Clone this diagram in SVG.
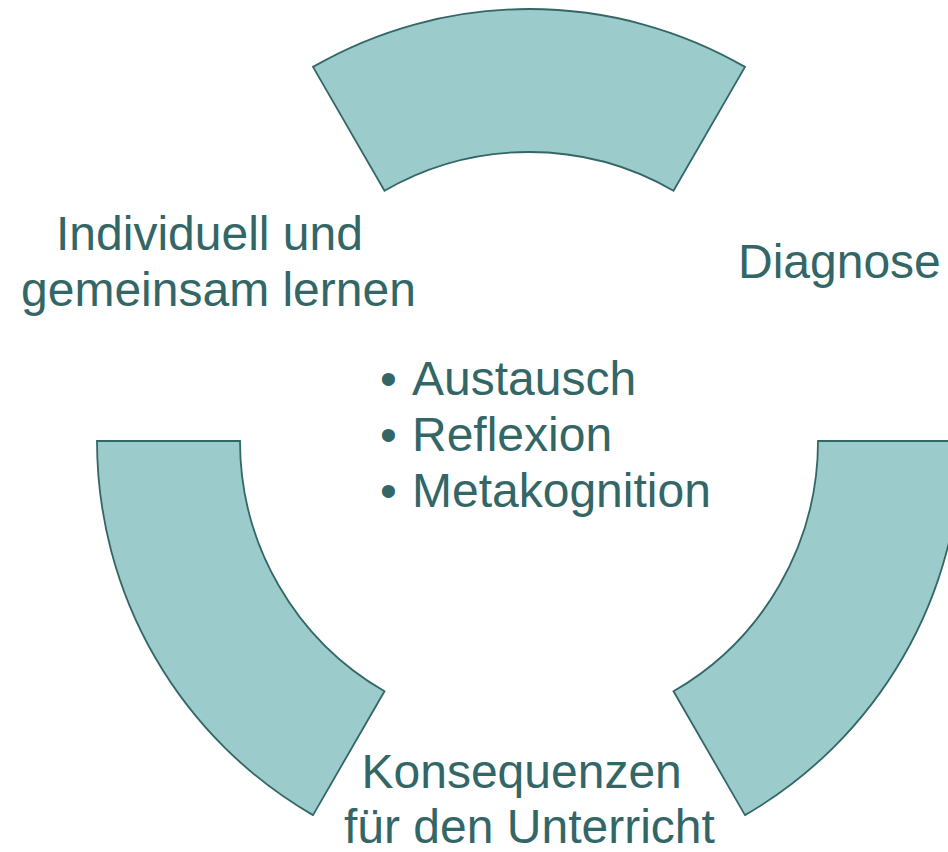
<svg xmlns="http://www.w3.org/2000/svg" width="948" height="852" viewBox="0 0 948 852">
<style>
.seg{fill:#9BCCCB;stroke:#336666;stroke-width:1.8;stroke-linejoin:miter}
.t{font-family:"Liberation Sans",Arial,sans-serif;font-size:48px;fill:#336666}
</style>
<rect width="948" height="852" fill="#ffffff"/>
<g id="segment-top"><path class="seg" d="M313,66.9 A432,432 0 0 1 745,66.9 L673.5,190.7 A289,289 0 0 0 384.5,190.7 Z"/></g>
<g id="segment-right"><path class="seg" d="M961,441 A432,432 0 0 1 745,815.1 L673.5,691.3 A289,289 0 0 0 818,441 Z"/></g>
<g id="segment-left"><path class="seg" d="M313,815.1 A432,432 0 0 1 97,441 L240,441 A289,289 0 0 0 384.5,691.3 Z"/></g>
<g id="connectors"></g>
<g id="label-lernen">
<text class="t" x="56" y="250">Individuell und</text>
<text class="t" x="21" y="306">gemeinsam lernen</text>
</g>
<g id="label-diagnose"><text class="t" x="738" y="278">Diagnose</text></g>
<g id="label-center">
<text class="t" x="380" y="395">•</text><text class="t" x="412" y="395">Austausch</text>
<text class="t" x="380" y="451">•</text><text class="t" x="412" y="451">Reflexion</text>
<text class="t" x="380" y="507">•</text><text class="t" x="412" y="507">Metakognition</text>
</g>
<g id="label-konsequenzen">
<text class="t" x="361.5" y="788">Konsequenzen</text>
<text class="t" x="344" y="843">für den Unterricht</text>
</g>
</svg>
